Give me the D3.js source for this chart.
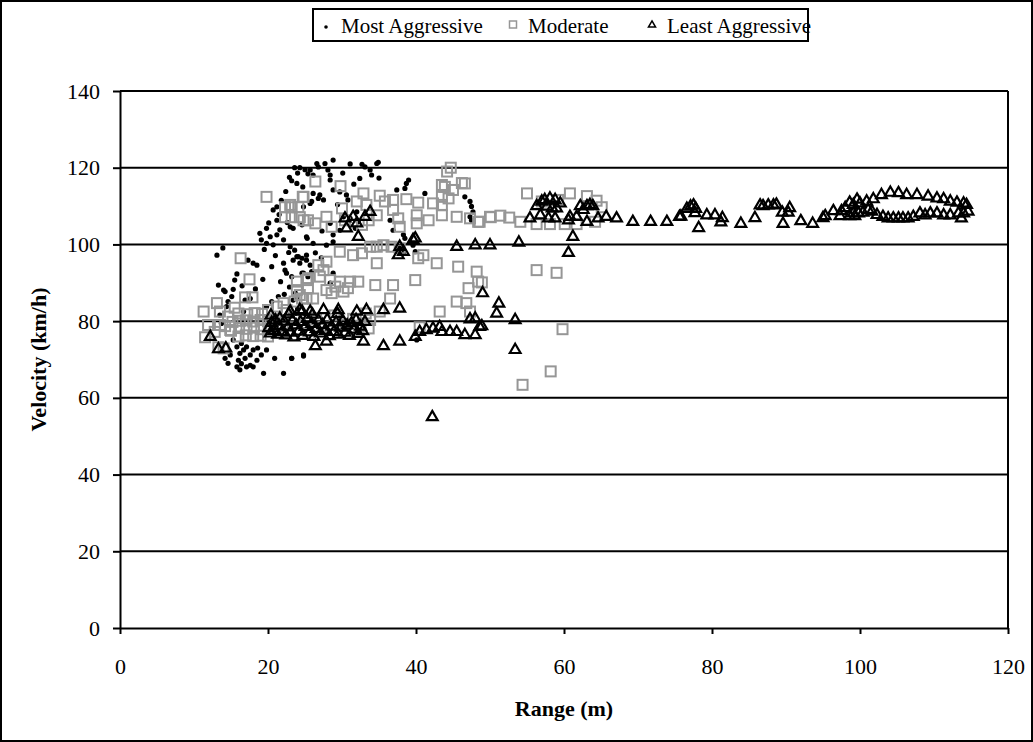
<!DOCTYPE html>
<html>
<head>
<meta charset="utf-8">
<script src="https://cdn.jsdelivr.net/npm/d3@7"></script>
<style>
  body { margin: 0; background: #fff; }
  text { font-family: "Liberation Serif", "Times New Roman", serif; fill: #000; }
</style>
</head>
<body>
<div id="chart"></div>
<script>
// range (m), velocity (km/h)
var mostAggressive = [
  [23.6,120.0],[24.3,120.0],[25.0,119.5],[25.4,118.4],[23.2,116.6],[23.9,115.9],[24.7,115.0],
  [20.7,109.0],[21.2,109.8],[21.2,106.3],[23.0,104.6],[24.6,105.1],[25.2,102.0],[18.9,102.9],
  [19.8,104.2],[20.3,102.0],[21.2,102.5],[21.6,103.8],[22.1,101.2],[19.1,101.2],[19.8,100.3],
  [20.7,99.9],[13.9,99.1],[13.1,97.2],[17.3,95.9],[18.0,95.1],[18.5,94.6],[20.5,94.2],
  [22.1,95.1],[22.3,93.3],[22.5,92.5],[23.4,95.9],[23.9,96.8],[24.6,96.4],[25.2,97.2],
  [23.2,91.6],[24.6,92.5],[15.5,90.7],[13.3,89.4],[14.0,88.1],[14.2,87.7],[15.3,88.3],
  [14.6,85.1],[14.4,83.8],[15.1,86.4],[16.9,85.5],[16.7,82.5],[17.6,85.9],[20.5,85.1],
  [19.8,83.8],[13.5,81.6],[13.7,79.4],[15.3,75.1],[15.8,73.3],[16.2,71.6],[16.7,72.5],
  [16.9,70.3],[16.0,69.8],[16.4,68.9],[17.1,68.1],[17.6,68.5],[18.5,69.8],[18.0,72.5],
  [18.6,73.0],[16.4,74.2],[17.1,73.3],[14.2,70.3],[14.6,69.0],[15.8,68.1],[14.9,71.2],
  [17.6,71.2],[19.1,71.2],[19.8,72.5],[20.9,70.3],[23.2,70.3],[24.8,71.2],[22.1,66.4],
  [19.4,66.4],[18.0,68.1],[16.2,67.3],[25.7,119.4],[26.1,118.1],[26.6,121.1],[27.7,121.1],
  [28.8,122.0],[26.8,120.2],[28.1,119.4],[28.4,118.1],[28.4,116.8],[31.1,121.0],[32.7,120.9],
  [33.1,120.2],[33.8,119.4],[34.0,118.1],[34.7,121.1],[34.9,121.4],[26.1,113.3],[27.0,112.9],
  [27.5,111.6],[26.8,112.0],[25.9,111.2],[28.8,114.2],[29.7,113.7],[30.6,112.9],[30.8,111.6],
  [24.8,109.8],[25.7,110.7],[39.0,116.8],[38.7,115.9],[37.4,114.2],[38.5,114.6],[41.2,113.3],
  [46.6,112.4],[47.3,111.2],[47.5,109.9],[47.7,108.5],[47.5,106.3],[47.3,107.2],[30.2,107.2],
  [31.1,106.8],[32.0,108.5],[32.2,105.9],[31.8,104.2],[29.7,103.7],[28.8,102.5],[28.4,105.5],
  [25.3,101.6],[23.4,104.2],[36.5,106.3],[36.9,103.7],[38.3,102.5],[38.5,101.6],[23.0,99.4],
  [23.6,98.5],[24.1,96.8],[24.3,95.1],[25.2,95.9],[25.7,94.6],[25.9,92.9],[25.4,91.6],
  [24.8,92.5],[26.1,100.3],[27.9,99.8],[28.8,100.7],[28.8,92.5],[28.4,89.9],[23.4,85.5],
  [23.9,85.9],[23.2,70.3],[24.8,70.9],[37.8,99.0],[38.3,97.7],[39.6,99.8],[39.9,98.1],[40.1,75.1],
  [21.8,111.5],[22.4,113.8],[22.9,117.5],[24.0,118.6],[21.5,107.8],[22.6,105.7],[20.1,105.6],
  [19.5,98.7],[21.0,97.1],[22.8,97.9],[21.7,90.3],[22.9,88.9],[23.7,87.3],[22.2,87.0],
  [24.0,83.2],[21.4,86.4],[27.2,96.5],[26.4,97.8],[27.3,103.5],[29.4,110.4],[31.6,115.7],
  [30.1,118.6],[32.4,117.2],[35.0,117.3],[15.8,92.3],[16.5,89.2],[18.3,88.4],[19.3,90.9]
];

var moderate = [
  [19.8,112.4],[24.7,112.4],[22.3,109.7],[23.2,109.7],[24.1,109.7],[22.3,107.1],[23.2,107.1],
  [24.3,107.1],[25.4,106.3],[16.3,96.4],[17.5,90.9],[16.9,86.2],[17.9,86.2],[13.1,84.7],
  [15.5,83.5],[13.5,82.5],[11.3,82.5],[11.9,79.0],[11.5,75.8],[13.3,73.2],[14.0,72.9],
  [16.0,76.0],[16.1,78.2],[16.2,80.1],[16.0,82.0],[17.0,76.3],[17.1,78.0],[17.0,80.2],
  [17.2,81.8],[18.0,76.1],[18.1,78.3],[18.0,79.9],[18.2,82.1],[19.0,76.2],[19.1,77.9],
  [19.0,80.3],[19.2,81.9],[20.0,76.0],[20.1,78.1],[20.0,80.0],[15.0,77.5],[15.2,79.8],
  [14.6,81.2],[13.5,79.0],[14.2,78.7],[14.9,77.7],[12.8,77.2],[23.9,90.3],[25.2,90.7],
  [24.3,86.8],[22.1,84.7],[23.6,85.1],[25.2,85.9],[20.0,82.9],[21.2,83.8],[22.5,82.9],
  [44.7,120.0],[26.4,116.4],[29.8,115.2],[24.8,112.4],[32.9,113.3],[32.0,111.2],[33.3,110.3],
  [35.1,112.7],[35.8,111.2],[36.9,111.6],[38.7,111.8],[40.3,110.9],[42.3,110.7],[43.5,110.3],
  [43.5,115.5],[43.9,115.0],[45.0,114.2],[46.6,115.9],[43.5,112.4],[44.4,112.0],[23.0,110.3],
  [24.8,106.3],[26.4,105.5],[27.9,107.2],[28.6,104.6],[30.0,109.4],[30.4,106.3],[32.7,105.1],
  [33.6,106.3],[34.7,107.6],[36.9,109.0],[37.6,106.8],[37.8,104.6],[40.1,107.6],[40.1,105.5],
  [41.7,106.3],[43.5,107.6],[45.5,107.2],[47.3,106.8],[48.4,105.9],[50.0,107.2],[29.7,98.1],
  [31.5,97.2],[32.7,97.7],[33.8,99.4],[34.7,99.4],[35.6,99.8],[36.7,99.4],[34.7,95.1],
  [37.8,99.0],[40.3,96.4],[41.0,97.2],[42.8,95.1],[26.8,94.6],[27.5,93.3],[27.9,95.5],
  [27.0,91.6],[28.4,90.7],[29.1,89.0],[29.7,90.3],[30.2,87.7],[27.9,88.1],[28.6,87.3],
  [23.9,88.1],[25.4,91.2],[25.4,88.6],[26.1,85.9],[24.6,85.9],[31.1,90.3],[32.2,90.3],
  [30.8,88.6],[34.5,89.4],[36.9,89.4],[39.9,90.7],[36.5,85.9],[35.1,82.5],[33.8,80.3],
  [33.6,78.1],[45.7,94.2],[48.2,92.9],[47.1,88.6],[48.4,90.3],[45.5,85.1],[46.8,84.7],
  [43.2,82.5],[47.3,82.5],[40.5,78.4],[46.2,116.0],[44.2,119.0],[55.0,113.3],[60.8,113.3],
  [63.1,112.6],[64.4,111.4],[65.1,109.7],[59.2,111.6],[57.0,111.2],[48.6,105.9],[50.1,107.1],
  [51.4,107.5],[52.6,107.0],[54.1,105.9],[56.3,105.3],[58.1,105.3],[60.1,105.3],[61.7,105.3],
  [64.2,105.9],[56.3,93.3],[59.0,92.6],[59.8,77.9],[58.2,66.9],[54.4,63.4],[48.9,90.1],
  [21.0,80.5],[22.0,79.0],[23.5,81.0],[25.0,79.5],[26.5,80.8],[27.5,78.5],[29.0,81.5],
  [30.5,79.2],[31.5,80.6],[32.5,78.8],[33.2,82.0]
];

var leastAggressive = [
  [12.2,75.9],[13.3,72.7],[14.3,72.9],[23.0,82.5],[24.6,82.5],[21.6,80.7],
  [20.1,78.2],[20.3,76.8],[20.5,79.6],[20.8,77.5],[21.0,80.2],[21.3,76.5],[21.5,78.8],
  [21.9,77.2],[22.2,79.9],[22.4,76.3],[22.7,78.4],[23.0,77.0],[23.3,80.1],[23.5,75.8],
  [23.8,78.9],[24.1,77.3],[24.4,79.8],[24.7,76.2],[25.0,78.5],[25.3,80.6],[25.6,77.1],
  [25.9,79.3],[26.2,75.9],[26.5,78.0],[26.8,80.2],[27.1,76.8],[27.4,79.0],[27.7,77.5],
  [28.0,80.4],[28.3,76.1],[28.6,78.6],[28.9,77.2],[29.2,79.7],[29.5,76.5],[29.8,78.3],
  [30.1,80.1],[30.4,77.0],[30.7,78.9],[31.0,76.2],[31.3,79.5],[31.6,77.8],[31.9,80.3],
  [32.2,76.7],[32.5,78.6],[32.8,77.4],[33.1,79.8],[20.4,81.5],[22.8,81.8],[26.0,81.7],
  [29.4,81.9],[24.3,82.9],[25.7,82.5],[27.5,82.9],[29.5,82.9],[32.0,82.5],[33.3,82.9],
  [35.6,82.9],[37.8,83.3],[26.4,73.5],[27.9,74.7],[32.9,74.7],[35.6,73.5],[37.8,74.7],
  [39.9,75.9],[40.5,77.2],[41.4,77.7],[42.3,78.1],[43.2,78.5],[43.5,77.2],[44.6,77.2],
  [45.5,77.2],[46.6,76.4],[48.0,76.4],[47.3,80.5],[48.0,80.7],[48.6,78.5],[30.4,106.8],
  [31.5,107.2],[30.6,104.2],[32.0,105.5],[33.1,107.2],[33.8,108.5],[32.2,102.0],[37.8,99.4],
  [39.6,101.2],[39.9,101.6],[45.5,99.4],[48.0,99.8],[50.0,99.8],[38.3,98.1],[37.6,97.2],
  [49.0,87.3],[51.2,84.6],[50.9,82.0],[53.4,80.3],[48.9,78.7],[53.4,72.5],[42.2,55.0],
  [60.6,97.8],[53.9,100.5],[61.2,102.0],
  [56.3,110.0],[57.0,111.2],[57.4,111.6],[58.1,112.0],[58.8,111.6],[59.5,110.7],[57.7,109.9],
  [58.4,109.4],[59.0,109.4],[56.8,107.6],[55.4,106.8],[57.9,106.8],[58.8,106.8],[60.6,106.3],
  [60.8,107.2],[61.7,107.2],[62.2,110.0],[63.1,110.0],[63.5,110.3],[63.9,110.0],[62.6,109.0],
  [63.1,105.9],[64.6,106.8],[65.7,107.2],[67.1,106.8],[69.3,105.9],[71.7,105.9],[73.9,105.9],
  [75.6,107.2],[75.8,107.3],[76.6,109.3],[77.1,109.9],[77.5,110.2],[77.8,109.3],[77.7,108.2],
  [78.2,104.3],[79.3,107.6],[80.4,107.6],[81.2,105.8],[81.4,106.9],[83.9,105.4],[85.8,106.9],
  [86.5,110.2],[86.9,110.0],[87.6,110.2],[88.3,110.2],[88.7,110.4],[89.5,108.3],[89.6,105.4],
  [90.5,109.5],[90.3,108.3],[92.0,106.1],[93.6,105.4],[95.0,106.9],[95.3,107.4],[96.4,108.7],
  [97.5,108.7],[98.0,109.5],[98.6,110.9],[99.6,111.7],[97.3,107.4],[98.6,107.4],[99.3,107.4],
  [99.1,110.3],[100.0,110.7],[100.9,111.2],[101.8,111.8],[102.9,112.9],[104.1,113.5],[105.2,113.4],
  [106.3,112.9],[107.7,112.9],[109.2,112.5],[110.4,112.0],[111.3,111.8],[112.2,111.2],[113.1,110.9],
  [114.0,110.7],[114.4,110.3],[99.1,108.1],[99.8,108.1],[100.4,108.3],[101.1,109.0],[101.6,108.6],
  [102.3,107.7],[103.1,107.2],[103.8,106.8],[104.5,106.8],[105.2,106.8],[105.8,106.8],[106.5,106.8],
  [107.2,107.2],[108.1,108.1],[108.8,107.6],[109.5,108.1],[110.4,108.1],[111.3,107.6],[112.2,107.6],
  [113.3,108.1],[114.0,108.1],[114.6,108.6],[113.7,106.8]
];

var seriesNames = ['Most Aggressive', 'Moderate', 'Least Aggressive'];
var xTicks = [0, 20, 40, 60, 80, 100, 120];
var yTicks = [0, 20, 40, 60, 80, 100, 120, 140];

(function () {
  var W = 1033, H = 742
    , pL = 120, pR = 1008, pT = 91, pB = 628
    ;

  var svg = d3.select('#chart').append('svg')
    .attr('width', W).attr('height', H);

  svg.append('rect')
    .attr('x', 1).attr('y', 1).attr('width', W - 2).attr('height', H - 2)
    .attr('fill', '#fff').attr('stroke', '#000').attr('stroke-width', 2);

  var x = d3.scaleLinear().domain([0, 120]).range([pL, pR])
    , y = d3.scaleLinear().domain([0, 140]).range([pB, pT])
    ;

  // gridlines
  svg.append('g').selectAll('line').data(yTicks.slice(1)).enter()
    .append('line')
    .attr('x1', pL).attr('x2', pR)
    .attr('y1', function (d) { return y(d); })
    .attr('y2', function (d) { return y(d); })
    .attr('stroke', '#000').attr('stroke-width', 2);

  svg.append('line')
    .attr('x1', pR).attr('x2', pR).attr('y1', pT).attr('y2', pB)
    .attr('stroke', '#000').attr('stroke-width', 2);

  var yAxis = svg.append('g')
    .attr('transform', 'translate(' + pL + ',0)')
    .call(d3.axisLeft(y).tickValues(yTicks).tickSize(7).tickPadding(13).tickSizeOuter(0));

  var xAxis = svg.append('g')
    .attr('transform', 'translate(0,' + pB + ')')
    .call(d3.axisBottom(x).tickValues(xTicks).tickSize(6).tickPadding(24).tickSizeOuter(0));

  [xAxis, yAxis].forEach(function (g) {
    g.attr('font-family', null).attr('font-size', null);
    g.select('.domain').attr('stroke', '#000').attr('stroke-width', 2);
    g.selectAll('.tick line').attr('stroke', '#000').attr('stroke-width', 2);
    g.selectAll('.tick text').style('font-size', '22px');
  });

  // axis titles
  svg.append('text')
    .attr('x', (pL + pR) / 2).attr('y', 716)
    .attr('text-anchor', 'middle')
    .style('font-size', '22px').style('font-weight', 'bold')
    .text('Range (m)');

  svg.append('text')
    .attr('transform', 'translate(46,' + (pT + pB) / 2 + ') rotate(-90)')
    .attr('text-anchor', 'middle')
    .style('font-size', '22px').style('font-weight', 'bold')
    .text('Velocity (km/h)');

  // markers
  var tri = d3.symbol().type(d3.symbolTriangle).size(50);

  svg.append('g').selectAll('circle').data(mostAggressive).enter()
    .append('circle')
    .attr('cx', function (d) { return x(d[0]); })
    .attr('cy', function (d) { return y(d[1]); })
    .attr('r', 2.6)
    .attr('fill', '#000');

  svg.append('g').selectAll('rect').data(moderate).enter()
    .append('rect')
    .attr('x', function (d) { return x(d[0]) - 5; })
    .attr('y', function (d) { return y(d[1]) - 5; })
    .attr('width', 10).attr('height', 10)
    .attr('fill', 'none').attr('stroke', '#969696').attr('stroke-width', 2);

  svg.append('g').selectAll('path').data(leastAggressive).enter()
    .append('path')
    .attr('d', tri)
    .attr('transform', function (d) { return 'translate(' + x(d[0]) + ',' + y(d[1]) + ')'; })
    .attr('fill', 'none').attr('stroke', '#000').attr('stroke-width', 2.2);

  // legend
  var legend = svg.append('g');
  legend.append('rect')
    .attr('x', 313).attr('y', 9).attr('width', 495).attr('height', 32)
    .attr('fill', '#fff').attr('stroke', '#000').attr('stroke-width', 2);

  var lx = [326, 513, 652];
  legend.append('circle').attr('cx', lx[0]).attr('cy', 27).attr('r', 1.8).attr('fill', '#000');
  legend.append('rect').attr('x', lx[1] - 3.5).attr('y', 21).attr('width', 7).attr('height', 7)
    .attr('fill', 'none').attr('stroke', '#969696').attr('stroke-width', 1.5);
  legend.append('path').attr('d', d3.symbol().type(d3.symbolTriangle).size(22))
    .attr('transform', 'translate(' + lx[2] + ',25)')
    .attr('fill', 'none').attr('stroke', '#000').attr('stroke-width', 1.5);

  legend.selectAll('text.lab').data(seriesNames).enter()
    .append('text')
    .attr('class', 'lab')
    .attr('x', function (d, i) { return lx[i] + 15; })
    .attr('y', 33)
    .style('font-size', '21px')
    .text(function (d) { return d; });
})();
</script>
</body>
</html>
